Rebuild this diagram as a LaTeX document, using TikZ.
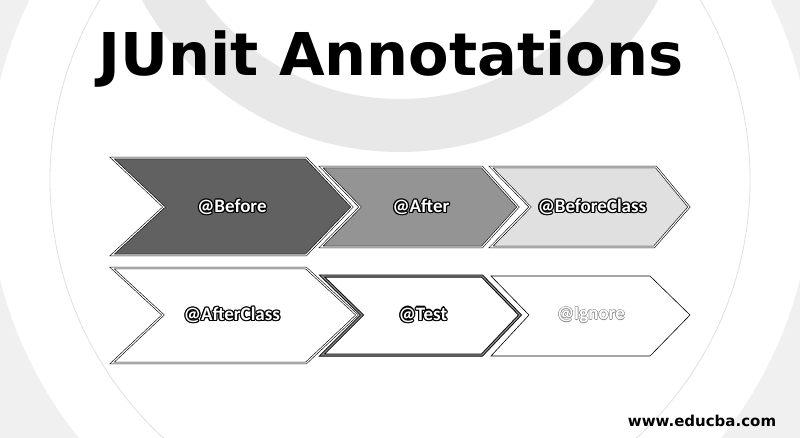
\documentclass[tikz,border=0pt]{standalone}
\usepackage{fontspec}
\setmainfont{Carlito}
\newfontfamily\titlefont{DejaVu Sans}
\newcommand\haloed[4]{% #1 halo colour, #2 halo size, #3 diagonal size, #4 text
\leavevmode
\rlap{\kern#2\textcolor{#1}{#4}}%
\rlap{\kern-#2\textcolor{#1}{#4}}%
\rlap{\raisebox{#2}{\textcolor{#1}{#4}}}%
\rlap{\raisebox{-#2}{\textcolor{#1}{#4}}}%
\rlap{\kern#3\raisebox{#3}{\textcolor{#1}{#4}}}%
\rlap{\kern-#3\raisebox{#3}{\textcolor{#1}{#4}}}%
\rlap{\kern#3\raisebox{-#3}{\textcolor{#1}{#4}}}%
\rlap{\kern-#3\raisebox{-#3}{\textcolor{#1}{#4}}}%
\textcolor{white}{#4}}
\begin{document}
\begin{tikzpicture}[x=1pt,y=-1pt,
  chev/.style={line width=0.6pt, line join=miter, draw=black, double=white, double distance=1.1pt},
  chevthin/.style={line width=0.6pt, line join=miter, draw=black},
  chevthick/.style={line width=0.9pt, line join=miter, draw=black, double=black!45, double distance=1.2pt},
  lbl/.style={font=\bfseries\fontsize{19}{21}\selectfont, inner sep=0pt, anchor=center}
]
\useasboundingbox (0,0) rectangle (800,437);
\fill[white] (0,0) rectangle (800,437);
% faint background rings
\begin{scope}
\clip (0,0) rectangle (800,437);
\fill[black!9, even odd rule] (400,-143) circle (295) (400,-143) circle (242);
\fill[black!6, even odd rule] (400,180) circle (540) (400,180) circle (412);
\draw[black!12, line width=0.8pt] (400,180) circle (350);
\end{scope}
% title
\node[font=\titlefont\bfseries\fontsize{59}{61}\selectfont, text=black, inner sep=0pt, anchor=base] (title) at (391,75) {JUnit Annotations};
% chevrons row 1
\path[chev, fill=black!62] (112,158) -- (306,158) -- (352,207) -- (306,255) -- (112,255) -- (164,207) -- cycle;
\path[chev, fill=black!42] (321,167) -- (482,167) -- (518,207) -- (482,247) -- (321,247) -- (360,207) -- cycle;
\path[chev, fill=black!12] (491,167) -- (656,167) -- (689,207) -- (654,247) -- (491,247) -- (530,207) -- cycle;
% chevrons row 2
\path[chev, fill=white] (112,268) -- (306,268) -- (357,315) -- (306,363) -- (112,363) -- (163,315) -- cycle;
\path[chevthick, fill=white] (322,276) -- (482,276) -- (520,315) -- (482,355) -- (322,355) -- (362,315) -- cycle;
\path[chevthin, fill=white] (491,276) -- (650,276) -- (690,315) -- (650,356) -- (491,356) -- (529,315) -- cycle;
% labels
\node[lbl] (before) at (232,207) {\haloed{black}{1.3pt}{0.9pt}{@Before}};
\node[lbl] (after) at (421,207) {\haloed{black}{1.3pt}{0.9pt}{@After}};
\node[lbl] (beforeclass) at (592,207) {\haloed{black}{1.3pt}{0.9pt}{@BeforeClass}};
\node[lbl] (afterclass) at (232,315) {\haloed{black}{1.3pt}{0.9pt}{@AfterClass}};
\node[lbl] (test) at (423,315) {\haloed{black}{1.3pt}{0.9pt}{@Test}};
\node[lbl] (ignore) at (591,315) {\haloed{black!45}{0.5pt}{0.35pt}{@Ignore}};
% footer
\node[font=\titlefont\bfseries\fontsize{15}{17}\selectfont, inner sep=0pt] (site) at (702,421) {www.educba.com};
\end{tikzpicture}
\end{document}
